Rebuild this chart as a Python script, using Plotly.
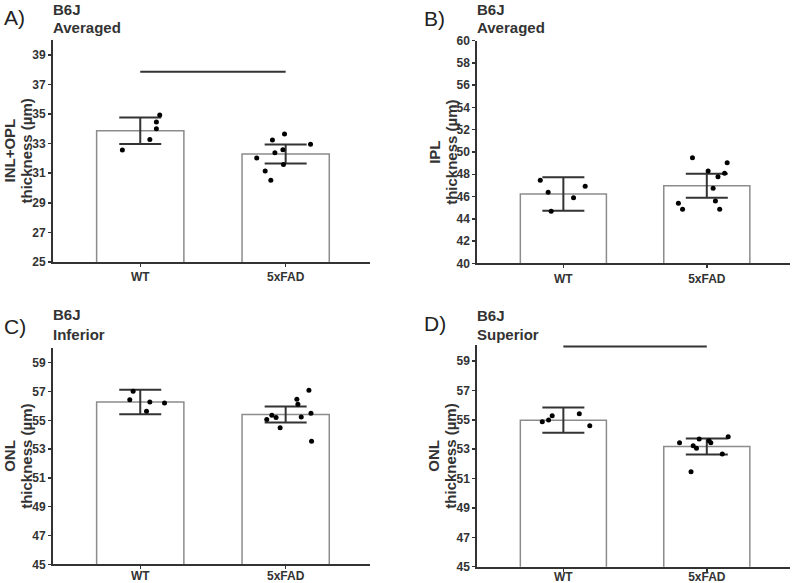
import plotly.graph_objects as go

groups = ["WT", "5xFAD"]

# Panel A: INL+OPL, averaged
a_means = [33.87, 32.30]
a_se = [0.90, 0.64]
a_wt = [34.93, 34.46, 34.00, 33.27, 32.57]
a_wt_jit = [0.134, 0.111, 0.111, 0.066, -0.123]
a_fad = [33.65, 33.24, 32.95, 32.59, 32.39, 32.03, 31.58, 31.15, 30.52]
a_fad_jit = [-0.008, -0.091, 0.171, -0.019, -0.074, -0.199, -0.015, -0.141, -0.102]
a_sig = 37.86

# Panel B: IPL, averaged
b_means = [46.23, 46.97]
b_se = [1.50, 1.08]
b_wt = [47.46, 46.38, 46.92, 45.90, 44.67]
b_wt_jit = [-0.161, -0.106, 0.152, 0.071, -0.085]
b_fad = [49.49, 49.04, 48.29, 48.09, 47.78, 46.74, 45.60, 45.39, 44.85, 44.85]
b_fad_jit = [-0.100, 0.142, 0.009, 0.124, 0.078, 0.044, 0.060, -0.198, -0.169, 0.090]

# Panel C: ONL, inferior
c_means = [56.27, 55.40]
c_se = [0.85, 0.55]
c_wt = [57.01, 56.43, 56.27, 56.20, 55.62]
c_wt_jit = [-0.049, -0.072, 0.066, 0.167, 0.043]
c_fad = [57.08, 56.46, 56.11, 55.35, 55.19, 55.05, 55.23, 55.49, 54.49, 53.54]
c_fad_jit = [0.160, 0.077, 0.084, -0.095, -0.066, -0.130, 0.107, 0.174, -0.038, 0.178]

# Panel D: ONL, superior
d_means = [54.98, 53.19]
d_se = [0.86, 0.55]
d_wt = [54.87, 55.00, 55.28, 55.42, 54.60]
d_wt_jit = [-0.147, -0.103, -0.078, 0.111, 0.184]
d_fad = [53.44, 53.69, 53.58, 53.44, 53.24, 53.06, 53.85, 52.67, 51.47]
d_fad_jit = [-0.190, -0.053, 0.016, 0.028, -0.095, -0.072, 0.149, 0.108, -0.110]
d_sig = 60.0

panel_letters = ["A)", "B)", "C)", "D)"]
panel_strain = ["B6J", "B6J", "B6J", "B6J"]
panel_region = ["Averaged", "Averaged", "Inferior", "Superior"]
panel_layer = ["INL+OPL", "IPL", "ONL", "ONL"]
y_title2 = "thickness (µm)"
y_ranges = [[25, 40], [40, 60], [45, 60], [45, 60.1]]
y_tick0 = [25, 40, 45, 45]
y_tickmax = [39, 60, 59, 59]

FONT = "Liberation Sans, Arial, sans-serif"
DARK = "#333333"
W, H = 796, 583

panels = [
    (a_means, a_se, a_wt, a_wt_jit, a_fad, a_fad_jit, a_sig),
    (b_means, b_se, b_wt, b_wt_jit, b_fad, b_fad_jit, None),
    (c_means, c_se, c_wt, c_wt_jit, c_fad, c_fad_jit, None),
    (d_means, d_se, d_wt, d_wt_jit, d_fad, d_fad_jit, d_sig),
]

# pixel boxes for each panel: (left, right, top, bottom)
boxes = [
    (53, 370, 40, 262),
    (477.3, 790, 40.7, 263.3),
    (53, 370, 348.3, 564.3),
    (477.3, 790, 345, 566.7),
]
xlabel_standoff = [0, 0, -4, -5]
letter_x = [2, 422, 2, 422]
letter_y = [18, 18.7, 326.3, 323]
strain_y = [9.5, 9.5, 314.8, 315.0]
region_y = [27.5, 27.5, 334.3, 334.2]

fig = go.Figure()
layout = dict(
    width=W, height=H,
    margin=dict(l=0, r=0, t=0, b=0, autoexpand=False),
    paper_bgcolor="white", plot_bgcolor="white",
    showlegend=False,
    font=dict(family=FONT, color=DARK),
)
annotations = []

for i, (means, se, wt, wtj, fad, fadj, sig) in enumerate(panels):
    n = i + 1
    xa = "x" if n == 1 else f"x{n}"
    ya = "y" if n == 1 else f"y{n}"
    fig.add_trace(go.Bar(
        x=[0, 1], y=means, width=0.6, xaxis=xa, yaxis=ya,
        marker=dict(color="white", line=dict(color="#8c8c8c", width=1.5)),
        error_y=dict(type="data", array=se, visible=True, color=DARK, thickness=2, width=21),
    ))
    fig.add_trace(go.Scatter(
        x=[0 + j for j in wtj] + [1 + j for j in fadj], y=wt + fad,
        mode="markers", xaxis=xa, yaxis=ya, cliponaxis=False,
        marker=dict(color="black", size=5),
    ))
    if sig is not None:
        fig.add_trace(go.Scatter(
            x=[0, 1], y=[sig, sig], mode="lines", xaxis=xa, yaxis=ya,
            line=dict(color=DARK, width=2),
        ))
    l, r, t, b = boxes[i]
    xkey = "xaxis" if n == 1 else f"xaxis{n}"
    ykey = "yaxis" if n == 1 else f"yaxis{n}"
    layout[xkey] = dict(
        domain=[l / W, r / W], anchor=ya, range=[-0.6, 1.58], automargin=False,
        tickvals=[0, 1], ticktext=groups, showline=True, linecolor=DARK, linewidth=2,
        ticks="outside", ticklen=3, tickwidth=1.5, tickcolor=DARK,
        ticklabelstandoff=xlabel_standoff[i],
        showgrid=False, zeroline=False,
        tickfont=dict(family=FONT, size=12, color=DARK, weight="bold"),
    )
    tv = list(range(y_tick0[i], y_tickmax[i] + 1, 2))
    layout[ykey] = dict(
        domain=[1 - b / H, 1 - t / H], anchor=xa, range=y_ranges[i], automargin=False,
        tickvals=tv, showline=True, linecolor=DARK, linewidth=2,
        ticks="outside", ticklen=3, tickwidth=1.5, tickcolor=DARK,
        showgrid=False, zeroline=False,
        tickfont=dict(family=FONT, size=12, color=DARK, weight="bold"),
    )
    # panel letter
    annotations.append(dict(
        text=panel_letters[i], xref="paper", yref="paper",
        x=letter_x[i] / W, y=1 - letter_y[i] / H, xanchor="left", yanchor="middle",
        showarrow=False, font=dict(family=FONT, size=21, color="#222222"),
    ))
    # title lines
    annotations.append(dict(
        text=f"<b>{panel_strain[i]}</b>", xref="paper", yref="paper",
        x=(l - 1) / W, y=1 - strain_y[i] / H, xanchor="left", yanchor="middle",
        showarrow=False, borderpad=0, font=dict(family=FONT, size=15, color=DARK),
    ))
    annotations.append(dict(
        text=f"<b>{panel_region[i]}</b>", xref="paper", yref="paper",
        x=(l - 1) / W, y=1 - region_y[i] / H, xanchor="left", yanchor="middle",
        showarrow=False, borderpad=0, font=dict(family=FONT, size=15, color=DARK),
    ))
    # y axis title (two rotated lines)
    ymid = 1 - ((t + b) / 2) / H
    annotations.append(dict(
        text=f"<b>{panel_layer[i]}</b>", xref="paper", yref="paper",
        x=(l - 43.5) / W, y=ymid, xanchor="center", yanchor="middle",
        textangle=-90, showarrow=False,
        font=dict(family=FONT, size=15, color=DARK),
    ))
    annotations.append(dict(
        text=f"<b>{y_title2}</b>", xref="paper", yref="paper",
        x=(l - 26.5) / W, y=ymid, xanchor="center", yanchor="middle",
        textangle=-90, showarrow=False,
        font=dict(family=FONT, size=15, color=DARK),
    ))

layout["annotations"] = annotations
fig.update_layout(**layout)
fig.write_html(
    "out.html",
    config={"staticPlot": True, "displayModeBar": False},
    post_script="document.body.style.margin='0px';",
)
